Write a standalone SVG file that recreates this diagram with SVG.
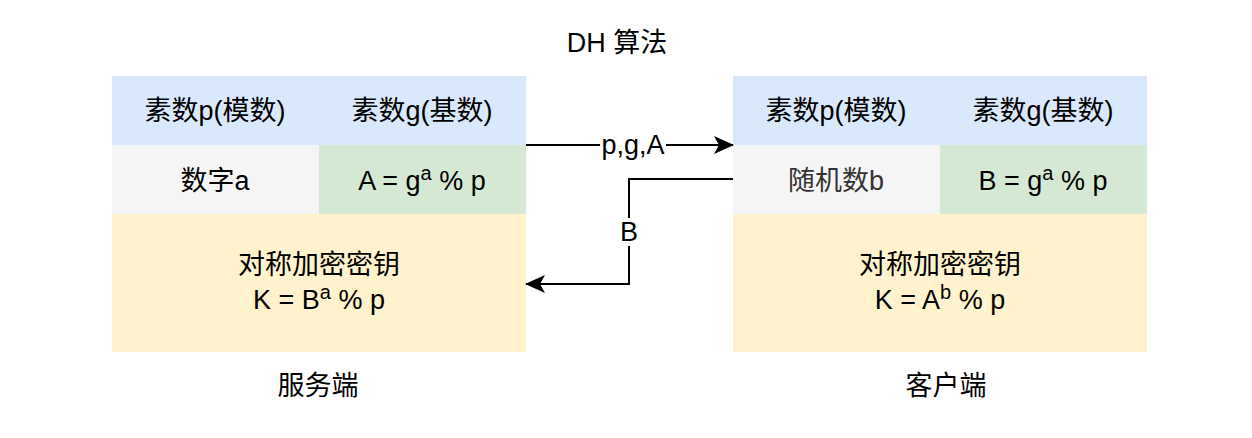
<svg xmlns="http://www.w3.org/2000/svg" width="1252" height="438" viewBox="0 0 1252 438">
<defs>
<style>
text{font-family:"Liberation Sans","Noto Sans CJK SC",sans-serif;font-size:27px;fill:#000;text-anchor:middle;dominant-baseline:central}
.hd{fill:#dae8fc}.gy{fill:#f5f5f5}.gn{fill:#d5e8d4}.yl{fill:#fff2cc}
.ln{fill:none;stroke:#000;stroke-width:2}
.sup{font-size:20px}
</style>
<marker id="ah" viewBox="0 0 20 18" refX="19" refY="9" markerWidth="20" markerHeight="18" markerUnits="userSpaceOnUse" orient="auto">
<path d="M0,0 L20,9 L0,18 L5,9 Z" fill="#000"/>
</marker>
</defs>
<rect width="1252" height="438" fill="#fff"/>
<text x="617" y="43">DH 算法</text>
<g id="server">
<rect class="hd" x="112" y="76" width="207" height="69"/>
<rect class="hd" x="319" y="76" width="207" height="69"/>
<rect class="gy" x="112" y="145" width="207" height="69"/>
<rect class="gn" x="319" y="145" width="207" height="69"/>
<rect class="yl" x="112" y="214" width="414" height="138"/>
<text x="215" y="111">素数p(模数)</text>
<text x="422" y="111">素数g(基数)</text>
<text x="215" y="181">数字a</text>
<text x="422" y="181">A = g<tspan class="sup" dy="-8">a</tspan><tspan dy="8"> % p</tspan></text>
<text x="319" y="265">对称加密密钥</text>
<text x="319" y="300">K = B<tspan class="sup" dy="-8">a</tspan><tspan dy="8"> % p</tspan></text>
<text x="318" y="386">服务端</text>
</g>
<g id="client">
<rect class="hd" x="733" y="76" width="207" height="69"/>
<rect class="hd" x="940" y="76" width="207" height="69"/>
<rect class="gy" x="733" y="145" width="207" height="69"/>
<rect class="gn" x="940" y="145" width="207" height="69"/>
<rect class="yl" x="733" y="214" width="414" height="138"/>
<text x="836" y="111">素数p(模数)</text>
<text x="1043" y="111">素数g(基数)</text>
<text x="836" y="181" style="fill:#333">随机数b</text>
<text x="1043" y="181">B = g<tspan class="sup" dy="-8">a</tspan><tspan dy="8"> % p</tspan></text>
<text x="940" y="265">对称加密密钥</text>
<text x="940" y="300">K = A<tspan class="sup" dy="-8">b</tspan><tspan dy="8"> % p</tspan></text>
<text x="946" y="386">客户端</text>
</g>
<g id="connectors">
<path class="ln" d="M526,145 H733" marker-end="url(#ah)"/>
<rect x="600" y="132" width="66" height="26" fill="#fff"/>
<text x="633" y="145">p,g,A</text>
<path class="ln" d="M733,179 H629 V284 H526" marker-end="url(#ah)"/>
<rect x="618" y="218" width="22" height="28" fill="#fff"/>
<text x="629" y="232">B</text>
</g>
</svg>
